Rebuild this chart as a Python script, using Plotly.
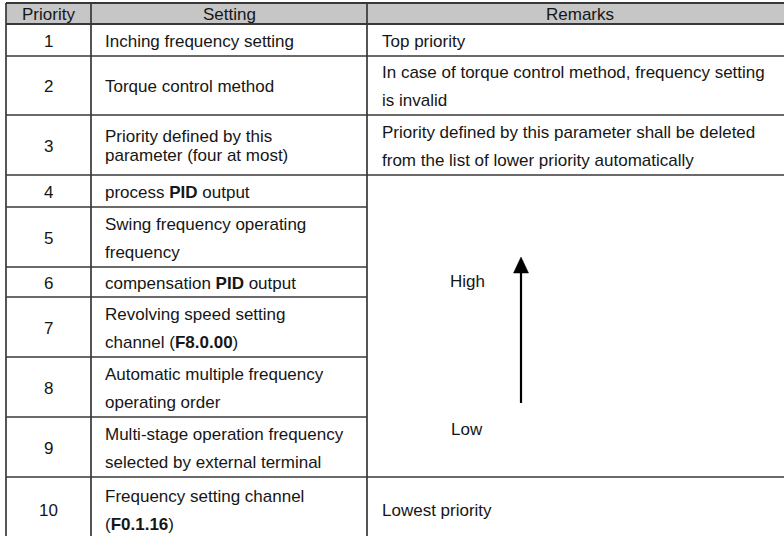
import plotly.graph_objects as go

# ---------------- data ----------------
headers = ["Priority", "Setting", "Remarks"]
priorities = ["1", "2", "3", "4", "5", "6", "7", "8", "9", "10"]
settings = [
    ["Inching frequency setting"],
    ["Torque control method"],
    ["Priority defined by this", "parameter (four at most)"],
    ["process <b>PID</b> output"],
    ["Swing frequency operating", "frequency"],
    ["compensation <b>PID</b> output"],
    ["Revolving speed setting", "channel (<b>F8.0.00</b>)"],
    ["Automatic multiple frequency", "operating order"],
    ["Multi-stage operation frequency", "selected by external terminal"],
    ["Frequency setting channel", "(<b>F0.1.16</b>)"],
]
remarks = [
    ["Top priority"],
    ["In case of torque control method, frequency setting", "is invalid"],
    ["Priority defined by this parameter shall be deleted",
     "from the list of lower priority automatically"],
    None, None, None, None, None, None,
    ["Lowest priority"],
]
merged_high = "High"
merged_low = "Low"

# ---------------- layout constants ----------------
W, H = 784, 536
X_LEFT, X_C1, X_C2, X_RIGHT = 6, 91, 367, 793
Y_BOUNDS = [3, 24, 56, 115, 175, 207, 267, 297, 357, 417, 477, 545]
PAD_SET = 12
PAD_REM = 13
GAP_LOOSE = 28
GAP_TIGHT = 19
TIGHT_SETTING_ROWS = {2}
MERGE_FIRST, MERGE_LAST = 3, 8  # rows 4..9 share one remarks cell

FONT = dict(family="Arial, Liberation Sans, sans-serif", size=17, color="#161616")
LINE_COLOR = "#383838"
HEADER_FILL = "#c6c6c6"

fig = go.Figure()
shapes = []
annotations = []

def text(x, y, s, anchor="left"):
    annotations.append(dict(x=x, y=y, xref="x", yref="y", text=s, showarrow=False,
                            xanchor=anchor, yanchor="middle", font=FONT))

def lines_at(x, center, lines, gap, anchor="left"):
    n = len(lines)
    for i, s in enumerate(lines):
        y = center + (i - (n - 1) / 2) * gap + 1
        text(x, y, s, anchor)

# header background
shapes.append(dict(type="rect", xref="x", yref="y", x0=X_LEFT, x1=X_RIGHT,
                   y0=Y_BOUNDS[0], y1=Y_BOUNDS[1], fillcolor=HEADER_FILL,
                   line=dict(width=0), layer="below"))

# header text
hc = (Y_BOUNDS[0] + Y_BOUNDS[1]) / 2 + 1
text((X_LEFT + X_C1) / 2, hc, headers[0], "center")
text((X_C1 + X_C2) / 2, hc, headers[1], "center")
text((X_C2 + X_RIGHT) / 2, hc, headers[2], "center")

# rows
for i, p in enumerate(priorities):
    y0, y1 = Y_BOUNDS[i + 1], Y_BOUNDS[i + 2]
    c = (y0 + y1) / 2
    if i == len(priorities) - 1:
        c = 509
    text((X_LEFT + X_C1) / 2, c + 1, p, "center")
    gap = GAP_TIGHT if i in TIGHT_SETTING_ROWS else GAP_LOOSE
    lines_at(X_C1 + PAD_SET, c, settings[i], gap)
    if remarks[i]:
        lines_at(X_C2 + PAD_REM, c, remarks[i], GAP_LOOSE)

# horizontal grid lines
for k, y in enumerate(Y_BOUNDS):
    inside_merge = MERGE_FIRST + 2 <= k <= MERGE_LAST + 1
    x1 = X_C2 if inside_merge else X_RIGHT
    w = 2 if k <= 1 else 1.7
    shapes.append(dict(type="line", xref="x", yref="y", x0=X_LEFT, x1=x1, y0=y, y1=y,
                       line=dict(color=LINE_COLOR, width=w)))

# vertical grid lines
for x in (X_LEFT, X_C1, X_C2):
    shapes.append(dict(type="line", xref="x", yref="y", x0=x, x1=x,
                       y0=Y_BOUNDS[0], y1=Y_BOUNDS[-1],
                       line=dict(color=LINE_COLOR, width=1.7)))

# merged remarks cell: High / arrow / Low
m_top = Y_BOUNDS[MERGE_FIRST + 1]
m_bot = Y_BOUNDS[MERGE_LAST + 2]
TXT_X = 467
ARROW_X = 521
text(TXT_X, m_top + 106, merged_high, "center")
text(TXT_X, m_bot - 48, merged_low, "center")
tip_y, head_y, tail_y = m_top + 82, m_top + 98, m_bot - 74
shapes.append(dict(type="line", xref="x", yref="y", x0=ARROW_X, x1=ARROW_X,
                   y0=head_y, y1=tail_y, line=dict(color="black", width=2.2)))
shapes.append(dict(type="path", xref="x", yref="y",
                   path=f"M {ARROW_X} {tip_y} L {ARROW_X - 7.5} {head_y} L {ARROW_X + 7.5} {head_y} Z",
                   fillcolor="black", line=dict(color="black", width=0.5)))

fig.update_layout(
    width=W, height=H, margin=dict(l=0, r=0, t=0, b=0),
    paper_bgcolor="white", plot_bgcolor="white",
    xaxis=dict(range=[0, W], visible=False, fixedrange=True),
    yaxis=dict(range=[H, 0], visible=False, fixedrange=True),
    shapes=shapes, annotations=annotations, showlegend=False,
)

fig.write_html("out.html", config={"displayModeBar": False},
               post_script="document.body.style.margin='0px';document.body.style.overflow='hidden';")
